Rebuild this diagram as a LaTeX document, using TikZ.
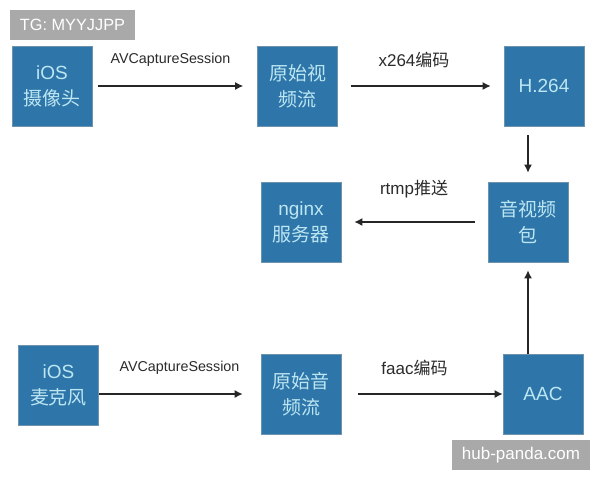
\documentclass[tikz,border=0pt]{standalone}
\usepackage{fontspec}
\setmainfont{Liberation Sans}
\newfontfamily\cjk{Noto Sans CJK SC}
\usetikzlibrary{arrows.meta,calc}
\definecolor{boxblue}{HTML}{2E76A9}
\definecolor{boxtext}{HTML}{BDE6F3}
\definecolor{boxedge}{HTML}{6F93AD}
\definecolor{wmgray}{HTML}{A9A9A9}
\definecolor{labeltext}{HTML}{2B2B2B}
\tikzset{
  bluebox/.style={fill=boxblue,draw=boxedge,line width=0.6pt,minimum width=80pt,minimum height=80pt,inner sep=0pt,
    text=boxtext,align=center,font=\fontsize{19}{26}\selectfont\cjk},
  latinbox/.style={bluebox,font=\fontsize{19}{26}\selectfont},
  flow/.style={draw=black!85,line width=1.4pt,-{Latex[length=8pt,width=8pt]}},
  edgetext/.style={text=labeltext,inner sep=0pt,font=\fontsize{17}{18}\selectfont},
  edgetextsmall/.style={text=labeltext,inner sep=0pt,font=\fontsize{14.3}{16}\selectfont},
  watermark/.style={fill=wmgray,text=white,inner sep=0pt},
}
\newcommand{\lat}[1]{{\fontspec{Liberation Sans}\fontsize{19}{26}\selectfont #1}}
\begin{document}
\begin{tikzpicture}[x=1pt,y=-1pt]
\useasboundingbox (0,0) rectangle (600,480);
\fill[white] (0,0) rectangle (600,480);
\node[bluebox] (cam) at (52,86) {\lat{iOS}\\摄像头};
\node[bluebox] (rawv) at (297.5,86) {原始视\\频流};
\node[latinbox] (h264) at (544,86) {H.264};
\node[bluebox] (pack) at (528,222) {音视频\\包};
\node[bluebox] (nginx) at (301,222) {\lat{nginx}\\服务器};
\node[bluebox] (mic) at (58.5,385) {\lat{iOS}\\麦克风};
\node[bluebox] (rawa) at (301,394) {原始音\\频流};
\node[latinbox] (aac) at (543,394) {AAC};
\draw[flow,shorten <=6pt,shorten >=14pt] (cam.east) -- (rawv.west);
\draw[flow,shorten <=13pt,shorten >=13pt] (rawv.east) -- (h264.west);
\draw[flow,shorten <=9pt,shorten >=9pt] ([xshift=-16pt]h264.south) -- (pack.north);
\draw[flow,shorten <=13pt,shorten >=13pt] (pack.west) -- (nginx.east);
\draw[flow,shorten >=18pt] ([yshift=-9pt]mic.east) -- (rawa.west);
\draw[flow,shorten <=17pt,shorten >=0pt] (rawa.east) -- (aac.west);
\draw[flow,shorten >=8pt] ([xshift=-15pt]aac.north) -- (pack.south);
\node[edgetextsmall] (l1) at (170.5,60) {AVCaptureSession};
\node[edgetext] (l2) at (414,60) {x264{\cjk 编码}};
\node[edgetext] (l3) at (414,189) {rtmp{\cjk 推送}};
\node[edgetextsmall] (l4) at (179.5,368) {AVCaptureSession};
\node[edgetext] (l5) at (414.5,368) {faac{\cjk 编码}};
\node[watermark,font=\fontsize{16.3}{18}\selectfont,minimum width=125pt,minimum height=30pt] (w1) at (72.5,25) {TG: MYYJJPP};
\node[watermark,font=\fontsize{17}{18}\selectfont,minimum width=138pt,minimum height=30pt] (w2) at (521,455) {hub-panda.com};
\end{tikzpicture}
\end{document}
